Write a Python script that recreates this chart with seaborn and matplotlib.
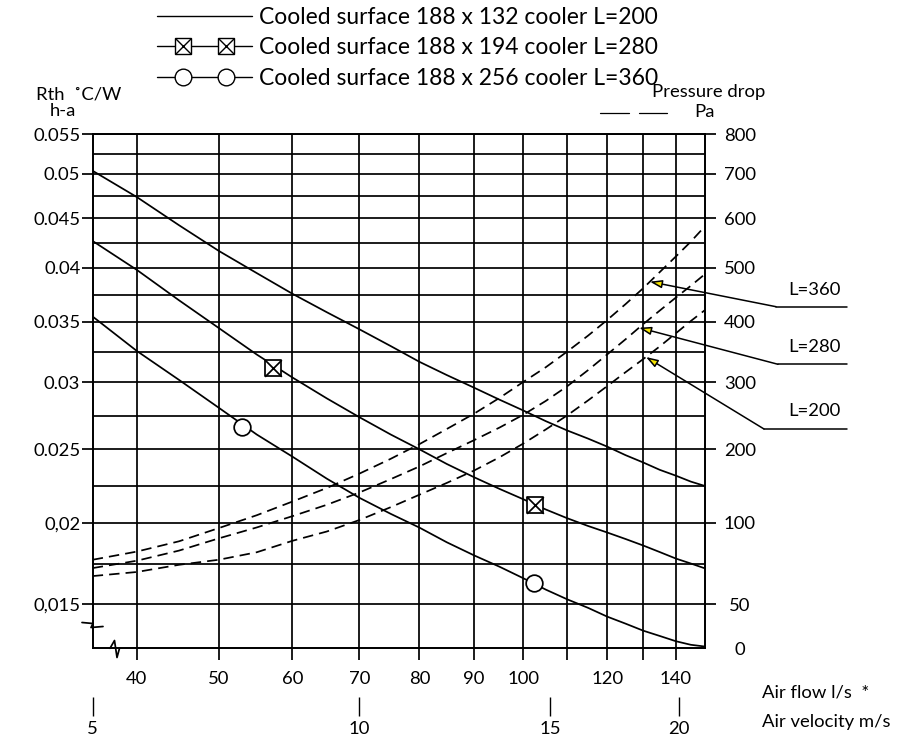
import numpy as np
import pandas as pd
import matplotlib
matplotlib.use("Agg")
import matplotlib.pyplot as plt
from matplotlib.lines import Line2D
from matplotlib.legend_handler import HandlerLine2D, HandlerTuple
import seaborn as sns

# air flow (l/s) at which the curves were read
flow = [35, 40, 45, 50, 55, 60, 65, 70, 75, 80, 85, 90, 95, 100,
        105, 110, 115, 120, 125, 130, 135, 140, 145, 150]

# thermal resistance heatsink-ambient, degC/W (solid curves)
rth_200 = [0.0504, 0.0474, 0.0443, 0.0417, 0.0395, 0.0376, 0.0359, 0.0344, 0.0330, 0.0317, 0.0306, 0.0296,
           0.0287, 0.0279, 0.0271, 0.0264, 0.0258, 0.0252, 0.0246, 0.0241, 0.0236, 0.0232, 0.0228, 0.0225]
rth_280 = [0.0427, 0.0398, 0.0370, 0.0345, 0.0323, 0.0304, 0.0288, 0.0274, 0.0261, 0.0250, 0.0240, 0.0231,
           0.0223, 0.0216, 0.0209, 0.0203, 0.0198, 0.0194, 0.0190, 0.0186, 0.0182, 0.0178, 0.0175, 0.0172]
rth_360 = [0.0355, 0.0326, 0.0302, 0.0281, 0.0261, 0.0245, 0.0230, 0.0217, 0.0206, 0.0197, 0.0188, 0.0180,
           0.0173, 0.0166, 0.0159, 0.0153, 0.0148, 0.0143, 0.0139, 0.0135, 0.0132, 0.0129, 0.0127, 0.0126]

# pressure drop, Pa (dashed curves)
dp_200 = [67.3, 69.8, 74.2, 77.3, 81.9, 88.9, 94.6, 103.6, 121.2, 138.1, 154.2, 171.0,
          189.2, 208.5, 229.6, 250.8, 272.9, 294.3, 316.8, 338.6, 359.6, 381.5, 401.8, 422.0]
dp_280 = [72.2, 76.7, 82.9, 90.4, 97.1, 108.9, 124.4, 141.1, 159.4, 176.6, 194.8, 213.6,
          232.5, 251.5, 272.2, 294.3, 320.1, 346.2, 371.4, 396.6, 421.1, 445.2, 466.7, 488.3]
dp_360 = [77.3, 82.3, 88.6, 96.7, 110.2, 128.8, 147.3, 166.8, 187.1, 207.7, 230.3, 253.1,
          276.8, 300.5, 325.0, 351.2, 377.3, 403.7, 433.0, 462.4, 492.0, 523.0, 552.7, 584.0]

# curve markers
mark_flow_280 = [57.3, 102.6]
mark_rth_280 = [0.0312, 0.0212]
mark_flow_360 = [53.0, 102.5]
mark_rth_360 = [0.0267, 0.0163]

coolers = ["L=200", "L=280", "L=360"]
legend_labels = ["Cooled surface 188 x 132 cooler L=200",
                 "Cooled surface 188 x 194 cooler L=280",
                 "Cooled surface 188 x 256 cooler L=360"]

# axis ticks and labels
flow_ticks = [40, 50, 60, 70, 80, 90, 100, 110, 120, 130, 140]
flow_labels = ["40", "50", "60", "70", "80", "90", "100", "", "120", "", "140"]
velocity = [5, 10, 15, 20]
velocity_flow = [35, 70, 106, 141]
rth_ticks = [0.015, 0.02, 0.025, 0.03, 0.035, 0.04, 0.045, 0.05, 0.055]
rth_labels = ["0,015", "0,02", "0.025", "0.03", "0.035", "0.04", "0.045", "0.05", "0.055"]
pa_ticks = [0, 50, 100, 200, 300, 400, 500, 600, 700, 800]

# the chart paper is not linear: where each printed grid value sits (pixels)
flow_grid = list(range(35, 151, 5))
flow_grid_px = [92.7, 136.8, 179, 218.8, 256.8, 292.4, 326.8, 359.3, 390.8, 419.4, 446.8, 474,
                499.6, 523.2, 545.8, 567.4, 588, 607.2, 625.6, 643.3, 659.8, 676, 690.8, 705]
rth_grid = [0.0125] + rth_ticks
pa_grid = pa_ticks
level_px = [648.3, 604.3, 522.7, 449.3, 382.3, 322, 267.7, 218.3, 174, 134.3]


def interp_scale(values, places):
    a = np.asarray(values, float)
    b = np.asarray(places, float)

    def along(v, p, q):
        v = np.asarray(v, float)
        flat = v.ravel().copy()
        out = np.interp(flat, p, q)
        lo = flat < p[0]
        hi = flat > p[-1]
        out[lo] = q[0] + (flat[lo] - p[0]) * (q[1] - q[0]) / (p[1] - p[0])
        out[hi] = q[-1] + (flat[hi] - p[-1]) * (q[-1] - q[-2]) / (p[-1] - p[-2])
        return out.reshape(v.shape)

    return (lambda v: along(v, a, b), lambda v: along(v, b, a))


W, H = 898, 739


def fx(x):
    return x / W


def fy(y):
    return 1 - y / H


FONT = ["Lato", "DejaVu Sans"]
FS = 13.3
LW = 1.25

sns.set_theme(style="ticks", rc={"axes.edgecolor": "black", "xtick.color": "black",
                                 "ytick.color": "black", "text.color": "black"})
plt.rcParams["font.family"] = FONT

fig = plt.figure(figsize=(W / 100, H / 100), dpi=100)
ax = fig.add_axes([fx(92.7), fy(648.3), (705 - 92.7) / W, (648.3 - 134.3) / H])
ax2 = ax.twinx()

n = len(flow)
df_rth = pd.DataFrame({"flow": flow * 3, "rth": rth_200 + rth_280 + rth_360,
                       "cooler": [c for c in coolers for _ in range(n)]})
df_dp = pd.DataFrame({"flow": flow * 3, "dp": dp_200 + dp_280 + dp_360,
                      "cooler": [c for c in coolers for _ in range(n)]})

sns.lineplot(data=df_rth, x="flow", y="rth", units="cooler", estimator=None, sort=False,
             color="black", lw=LW, ax=ax, legend=False, zorder=3)
sns.lineplot(data=df_dp, x="flow", y="dp", units="cooler", estimator=None, sort=False,
             color="black", lw=LW, linestyle=(0, (6, 3.5)), ax=ax2, legend=False, zorder=3)

sns.scatterplot(x=mark_flow_280, y=mark_rth_280, marker="s", s=144, color="white",
                edgecolor="black", linewidth=LW, ax=ax, zorder=4)
sns.scatterplot(x=mark_flow_280, y=mark_rth_280, marker="x", s=144, color="black",
                linewidth=LW, ax=ax, zorder=5)
sns.scatterplot(x=mark_flow_360, y=mark_rth_360, marker="o", s=144, color="white",
                edgecolor="black", linewidth=LW, ax=ax, zorder=4)

# scales
y_places = [648.3 - p for p in level_px]
ax.set_xscale("function", functions=interp_scale(flow_grid, flow_grid_px))
ax.set_yscale("function", functions=interp_scale(rth_grid, y_places))
ax2.set_yscale("function", functions=interp_scale(pa_grid, y_places))
ax.set_xlim(35, 150)
ax.set_ylim(0.0125, 0.055)
ax2.set_ylim(0, 800)

ax.set_xticks(flow_ticks, flow_labels)
ax.set_xticks(flow_grid[1:-1:2], minor=True)
ax.set_yticks(rth_ticks, rth_labels)
ax.set_yticks([(a + b) / 2 for a, b in zip(rth_ticks[:-1], rth_ticks[1:])], minor=True)
ax2.set_yticks(pa_ticks, [str(v) for v in pa_ticks])
ax.set_xlabel("")
ax.set_ylabel("")
ax2.set_ylabel("")

ax.grid(which="both", color="black", lw=LW)
ax.tick_params(axis="x", which="major", length=8.6, width=LW, pad=8, labelsize=FS)
ax.tick_params(axis="y", which="major", length=7.9, width=LW, pad=1, labelsize=FS)
ax.tick_params(which="minor", length=0)
ax2.tick_params(axis="y", length=7.9, width=LW, pad=17.3, labelsize=FS)
for lab in ax2.get_yticklabels():
    lab.set_horizontalalignment("center")
ax2.yaxis.get_major_ticks()[0].tick2line.set_visible(False)
for a in (ax, ax2):
    for sp in a.spines.values():
        sp.set_linewidth(LW)
        sp.set_color("black")

# air velocity scale below the air flow scale
axv = fig.add_axes([fx(92.7), fy(696.7), (705 - 92.7) / W, 0.0005])
axv.set_xscale("function", functions=interp_scale(flow_grid, flow_grid_px))
axv.set_xlim(35, 150)
axv.set_xticks(velocity_flow, [str(v) for v in velocity])
axv.set_yticks([])
axv.patch.set_visible(False)
for sp in axv.spines.values():
    sp.set_visible(False)
axv.tick_params(axis="x", length=13.7, width=1.0, pad=4, labelsize=FS)

# break marks on the left and bottom edges
zig_left = [(82, 622.5), (93, 623.5), (91, 627.5), (103, 626.5)]
zig_bottom = [(110, 648.3), (114.5, 640.5), (117, 657.5), (119.5, 648.3)]
for pts in (zig_left, zig_bottom):
    fig.add_artist(Line2D([fx(p[0]) for p in pts], [fy(p[1]) for p in pts],
                          color="black", lw=LW))

# leaders to the pressure drop curves
leaders = [("L=360", dp_360, 132.0, (776, 306.7), 290),
           ("L=280", dp_280, 128.8, (778, 364.3), 346.7),
           ("L=200", dp_200, 130.8, (764, 429), 411)]
for name, dp, at, elbow, label_y in leaders:
    ax2.annotate("", xy=(at, np.interp(at, flow, dp)), xycoords="data",
                 xytext=(fx(elbow[0]), fy(elbow[1])), textcoords="figure fraction",
                 arrowprops=dict(arrowstyle="-|>,head_length=0.6,head_width=0.2",
                                 fc="#f5e400", ec="black", lw=1.1, shrinkA=0, shrinkB=0),
                 annotation_clip=False)
    fig.add_artist(Line2D([fx(elbow[0]), fx(847)], [fy(elbow[1]), fy(elbow[1])],
                          color="black", lw=1.1))
    fig.text(fx(814), fy(label_y), name, ha="center", va="center", fontsize=FS)

# axis titles
fig.text(fx(36), fy(94), "Rth  ˚C/W", ha="left", va="center", fontsize=FS)
fig.text(fx(50), fy(111), "h-a", ha="left", va="center", fontsize=FS)
fig.text(fx(709), fy(92), "Pressure drop", ha="center", va="center", fontsize=FS)
fig.text(fx(705), fy(112), "Pa", ha="center", va="center", fontsize=FS)
for x0, x1 in ((600, 629), (639, 667)):
    fig.add_artist(Line2D([fx(x0), fx(x1)], [fy(113), fy(113)], color="black", lw=0.9))
fig.text(fx(762), fy(692), "Air flow l/s  *", ha="left", va="center", fontsize=FS)
fig.text(fx(762), fy(722), "Air velocity m/s", ha="left", va="center", fontsize=FS)

# legend: plain line across the whole handle, two markers inside it
LEG_FS = 16.5
h200 = Line2D([], [], color="black", lw=1.0)
line280 = Line2D([], [], color="black", lw=1.0)
box280 = Line2D([], [], ls="none", marker="s", ms=12, mfc="white", mec="black", mew=1.0)
cross280 = Line2D([], [], ls="none", marker="x", ms=12, mec="black", mew=1.0)
line360 = Line2D([], [], color="black", lw=1.0)
ring360 = Line2D([], [], ls="none", marker="o", ms=12, mfc="white", mec="black", mew=1.0)
inset = HandlerLine2D(marker_pad=1.13, numpoints=2)
fig.legend([h200, (line280, box280, cross280), (line360, ring360)], legend_labels,
           loc="upper left", bbox_to_anchor=(fx(157), fy(7)), frameon=False, fontsize=LEG_FS,
           handlelength=4.15, handletextpad=0.3, labelspacing=0.41, numpoints=2,
           borderpad=0, borderaxespad=0,
           handler_map={Line2D: HandlerLine2D(marker_pad=0), tuple: HandlerTuple(ndivide=1),
                        box280: inset, cross280: inset, ring360: inset})

fig.savefig("out.png", dpi=100)
